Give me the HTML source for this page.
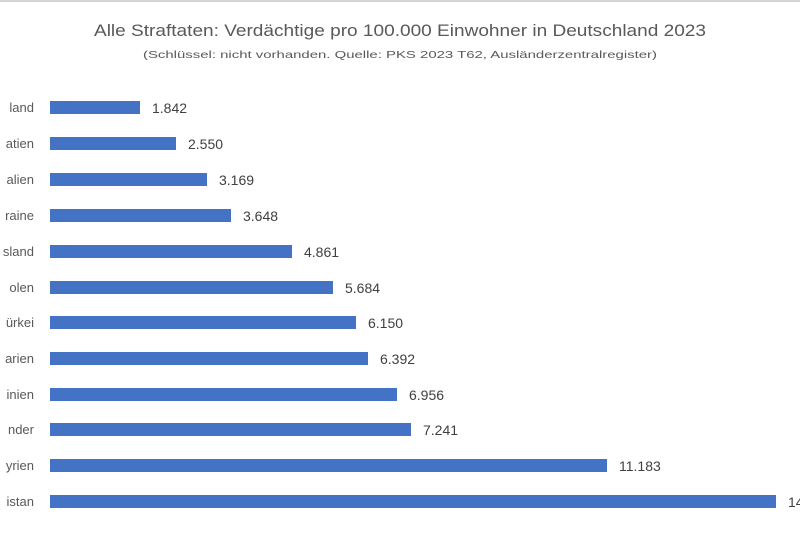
<!DOCTYPE html>
<html><head><meta charset="utf-8"><style>
html,body{margin:0;padding:0;background:#fff;}
svg{display:block;font-family:"Liberation Sans",sans-serif;}
</style></head><body>
<svg width="800" height="534" viewBox="0 0 800 534">
<rect x="0" y="0" width="800" height="2" fill="#d4d4d4"/>
<text x="400" y="36" text-anchor="middle" font-size="16.5" fill="#595959" textLength="612" lengthAdjust="spacingAndGlyphs">Alle Straftaten: Verdächtige pro 100.000 Einwohner in Deutschland 2023</text>
<text x="400" y="58" text-anchor="middle" font-size="10.5" fill="#595959" textLength="514" lengthAdjust="spacingAndGlyphs">(Schlüssel: nicht vorhanden.  Quelle: PKS 2023 T62, Ausländerzentralregister)</text>
<g fill="#4472c4">
<rect x="50" y="101" width="90" height="13"/>
<rect x="50" y="137" width="126" height="13"/>
<rect x="50" y="173" width="157" height="13"/>
<rect x="50" y="209" width="181" height="13"/>
<rect x="50" y="245" width="242" height="13"/>
<rect x="50" y="281" width="283" height="13"/>
<rect x="50" y="316" width="306" height="13"/>
<rect x="50" y="352" width="318" height="13"/>
<rect x="50" y="388" width="347" height="13"/>
<rect x="50" y="423" width="361" height="13"/>
<rect x="50" y="459" width="557" height="13"/>
<rect x="50" y="495" width="726" height="13"/>
</g>
<g font-size="14" fill="#404040">
<text x="152" y="113">1.842</text>
<text x="188" y="149">2.550</text>
<text x="219" y="185">3.169</text>
<text x="243" y="221">3.648</text>
<text x="304" y="257">4.861</text>
<text x="345" y="293">5.684</text>
<text x="368" y="328">6.150</text>
<text x="380" y="364">6.392</text>
<text x="409" y="400">6.956</text>
<text x="423" y="435">7.241</text>
<text x="619" y="471">11.183</text>
<text x="788" y="507">14.577</text>
</g>
<g font-size="13" fill="#595959" text-anchor="end">
<text x="34" y="112">land</text>
<text x="34" y="148">atien</text>
<text x="34" y="184">alien</text>
<text x="34" y="220">raine</text>
<text x="34" y="256">sland</text>
<text x="34" y="292">olen</text>
<text x="34" y="327">ürkei</text>
<text x="34" y="363">arien</text>
<text x="34" y="399">inien</text>
<text x="34" y="434">nder</text>
<text x="34" y="470">yrien</text>
<text x="34" y="506">istan</text>
</g>
</svg>
</body></html>
